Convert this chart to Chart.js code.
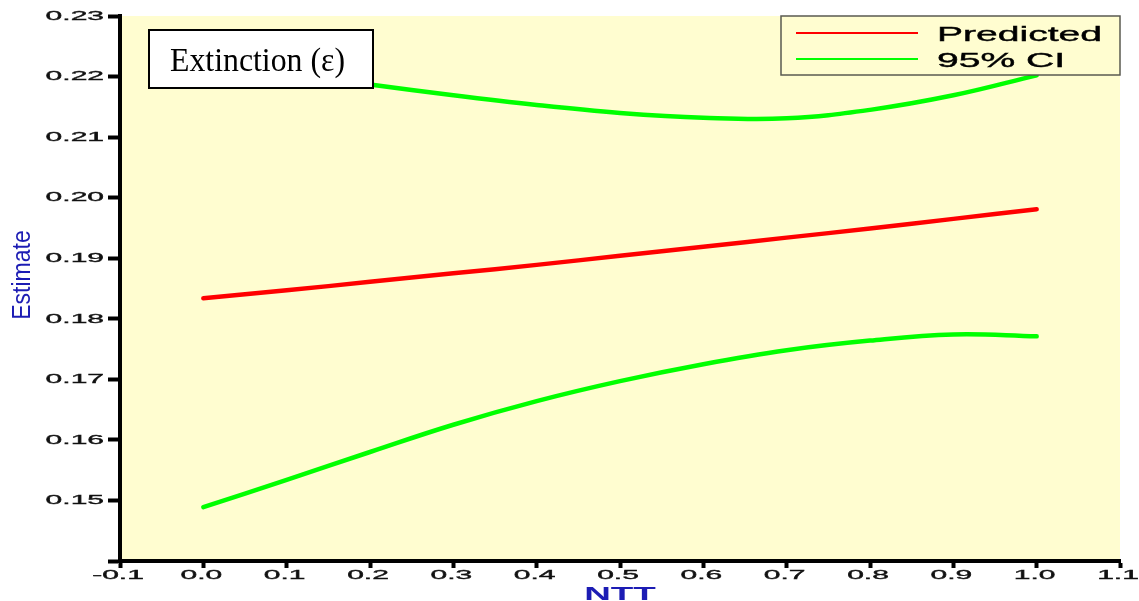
<!DOCTYPE html>
<html>
<head>
<meta charset="utf-8">
<title>Extinction (ε) estimate vs NTT</title>
<script src="https://cdn.jsdelivr.net/npm/chart.js@4/dist/chart.umd.min.js"></script>
<style>
  html, body { margin: 0; padding: 0; background: #ffffff; }
  #wrap { width: 1139px; height: 601px; }
</style>
</head>
<body>
<div id="wrap"><canvas id="chart" width="1139" height="601"></canvas></div>
<script>
// NTT values at which the model was evaluated
const ntt = [0.0, 0.1, 0.2, 0.3, 0.4, 0.5, 0.6, 0.7, 0.8, 0.9, 1.0];
// Predicted extinction estimate
const predicted = [0.1834, 0.1847, 0.1861, 0.1875, 0.1889, 0.1904, 0.1919, 0.1934, 0.1949, 0.1965, 0.1981];
// 95% confidence band
const ciUpper = [0.2226, 0.2206, 0.2187, 0.2169, 0.2153, 0.2140, 0.2132, 0.2131, 0.2145, 0.2169, 0.2202];
const ciLower = [0.1489, 0.1534, 0.1580, 0.1625, 0.1664, 0.1697, 0.1725, 0.1748, 0.1764, 0.1774, 0.1771];

const seriesLabels = ['Predicted', '95% CI'];
const seriesColors = ['#ff0000', '#00ff00'];
const titleText = 'Extinction (ε)';
const xTitle = 'NTT';
const yTitle = 'Estimate';
const xTickMin = -0.1, xTickMax = 1.1, xTickStep = 0.1;
const yTickMin = 0.14, yTickMax = 0.23, yTickStep = 0.01;

const PLOT_BG = '#fffdd0';
const AXIS_BLUE = '#1c1cb4';

function pts(ys) { return ntt.map((x, i) => ({ x: x, y: ys[i] })); }

// draw text stretched horizontally by sx
function wideText(ctx, text, x, y, sx, align, baseline, weight) {
  ctx.save();
  ctx.translate(x, y);
  ctx.scale(sx, 1);
  ctx.textAlign = align;
  ctx.textBaseline = baseline;
  ctx.fillText(text, 0, 0);
  if (weight) {
    ctx.lineWidth = weight;
    ctx.strokeStyle = ctx.fillStyle;
    ctx.strokeText(text, 0, 0);
  }
  ctx.restore();
}

const plotBackground = {
  id: 'plotBackground',
  beforeDraw(chart) {
    const { ctx, chartArea: a } = chart;
    ctx.save();
    ctx.fillStyle = PLOT_BG;
    ctx.fillRect(a.left, a.top, a.right - a.left, a.bottom - a.top);
    ctx.restore();
  }
};

const axisText = {
  id: 'axisText',
  afterDraw(chart) {
    const ctx = chart.ctx;
    const xs = chart.scales.x, ys = chart.scales.y;
    ctx.save();
    ctx.fillStyle = '#111111';
    ctx.font = '12px "Liberation Sans", Arial, sans-serif';
    ys.ticks.forEach(t => {
      if (Math.abs(t.value - yTickMin) < 1e-9) return;
      const py = ys.getPixelForValue(t.value);
      wideText(ctx, t.value.toFixed(2), ys.right - 16, py + 0.5, 2.5, 'right', 'middle', 0.35);
    });
    xs.ticks.forEach(t => {
      const v = Math.abs(t.value) < 1e-9 ? 0 : t.value;
      const px = xs.getPixelForValue(t.value);
      wideText(ctx, v.toFixed(1), px - 2, 576, 2.5, 'center', 'middle', 0.35);
    });
    // axis titles
    ctx.fillStyle = AXIS_BLUE;
    ctx.font = 'bold 18px "Liberation Sans", Arial, sans-serif';
    wideText(ctx, xTitle, (xs.left + xs.right) / 2, 600, 2.05, 'center', 'alphabetic');
    ctx.font = '23px "Liberation Sans", Arial, sans-serif';
    ctx.save();
    ctx.translate(30, 275);
    ctx.rotate(-Math.PI / 2);
    ctx.scale(1, 1.15);
    ctx.textAlign = 'center';
    ctx.textBaseline = 'alphabetic';
    ctx.fillText(yTitle, 0, 0);
    ctx.restore();
    ctx.restore();
  }
};

const boxes = {
  id: 'boxes',
  afterDatasetsDraw(chart) {
    const ctx = chart.ctx;
    ctx.save();
    // title box
    ctx.fillStyle = '#ffffff';
    ctx.fillRect(149, 30, 224, 58);
    ctx.strokeStyle = '#000000';
    ctx.lineWidth = 2;
    ctx.strokeRect(149, 30, 224, 58);
    ctx.fillStyle = '#000000';
    ctx.font = '34px "Liberation Serif", "Times New Roman", serif';
    const tw = ctx.measureText(titleText).width;
    wideText(ctx, titleText, 170, 71, 175 / tw, 'left', 'alphabetic');

    // legend box
    ctx.fillStyle = PLOT_BG;
    ctx.fillRect(781, 16, 339, 59);
    ctx.strokeStyle = '#5a5a50';
    ctx.lineWidth = 1.5;
    ctx.strokeRect(781, 16, 339, 59);
    ctx.font = '21px "Liberation Sans", Arial, sans-serif';
    const rows = [33, 59];
    seriesLabels.forEach((lab, i) => {
      ctx.strokeStyle = seriesColors[i];
      ctx.lineWidth = 2;
      ctx.beginPath();
      ctx.moveTo(796, rows[i]);
      ctx.lineTo(918, rows[i]);
      ctx.stroke();
      ctx.fillStyle = '#000000';
      wideText(ctx, lab, 937, rows[i] + 7.5, 1.86, 'left', 'alphabetic', 0.4);
    });
    ctx.restore();
  }
};

const lineStyle = {
  borderWidth: 4.5,
  pointRadius: 0,
  pointHoverRadius: 0,
  fill: false,
  tension: 0.4,
  borderCapStyle: 'round',
  borderJoinStyle: 'round'
};

new Chart(document.getElementById('chart'), {
  type: 'line',
  data: {
    datasets: [
      Object.assign({ label: seriesLabels[1] + ' upper', data: pts(ciUpper), borderColor: seriesColors[1] }, lineStyle),
      Object.assign({ label: seriesLabels[1] + ' lower', data: pts(ciLower), borderColor: seriesColors[1] }, lineStyle),
      Object.assign({ label: seriesLabels[0], data: pts(predicted), borderColor: seriesColors[0] }, lineStyle)
    ]
  },
  options: {
    responsive: false,
    animation: false,
    events: [],
    layout: { padding: { left: 0, right: 19, top: 16, bottom: 0 } },
    plugins: {
      legend: { display: false },
      tooltip: { enabled: false },
      title: { display: false }
    },
    scales: {
      x: {
        type: 'linear',
        min: xTickMin,
        max: xTickMax,
        afterFit(s) { s.height = 40; },
        ticks: { display: false, stepSize: xTickStep, autoSkip: false },
        grid: { drawOnChartArea: false, drawTicks: true, tickLength: 7, tickWidth: 4, tickColor: '#000000' },
        border: { display: true, color: '#000000', width: 4 }
      },
      y: {
        type: 'linear',
        min: yTickMin,
        max: yTickMax,
        afterFit(s) { s.width = 120; },
        ticks: { display: false, stepSize: yTickStep, autoSkip: false },
        grid: { drawOnChartArea: false, drawTicks: true, tickLength: 12, tickWidth: 4, tickColor: '#000000' },
        border: { display: true, color: '#000000', width: 4 }
      }
    }
  },
  plugins: [plotBackground, boxes, axisText]
});
</script>
</body>
</html>
